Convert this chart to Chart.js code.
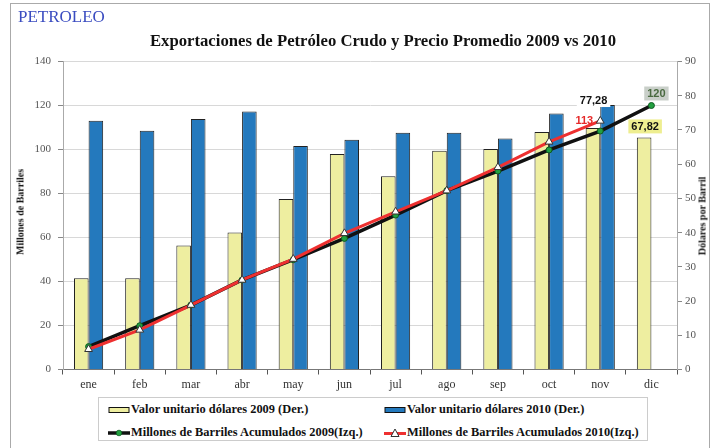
<!DOCTYPE html>
<html>
<head>
<meta charset="utf-8">
<script src="https://cdn.jsdelivr.net/npm/chart.js@4.4.0/dist/chart.umd.min.js"></script>
<style>
  html, body { margin: 0; padding: 0; background: #fff; }
  #wrap { position: relative; width: 717px; height: 448px; overflow: hidden; }
  #frame { position: absolute; left: 10px; top: 3px; width: 700px; height: 460px; border: 1px solid #aaa; box-sizing: border-box; }
  canvas { position: absolute; left: 0; top: 0; }
  .txt { position: absolute; white-space: nowrap; }
  #brand { left: 18px; top: 7px; font: 17px "Liberation Serif", serif; color: #3a4cc0; }
  #title { left: 0; width: 766px; text-align: center; top: 31px; font: bold 16.7px "Liberation Serif", serif; color: #111; }
  .ytitle { font: bold 10px "Liberation Serif", serif; color: #111; transform: translate(-50%, -50%) rotate(-90deg); }
  #legend { position: absolute; left: 98px; top: 397px; width: 550px; height: 44px; border: 1px solid #ccc; box-sizing: border-box; background: #fff; }
  .li { position: absolute; display: flex; align-items: center; font: bold 12.4px "Liberation Serif", serif; color: #111; white-space: nowrap; }
  .li svg { margin-right: 1px; }
</style>
</head>
<body>
<div id="wrap">
  <div id="frame"></div>
  <canvas id="c" width="717" height="448"></canvas>
  <div class="txt" id="brand">PETROLEO</div>
  <div class="txt" id="title">Exportaciones de Petróleo Crudo y Precio Promedio 2009 vs 2010</div>
  <div class="txt ytitle" style="left:20px; top:212px;">Millones de Barriles</div>
  <div class="txt ytitle" style="left:702px; top:216px;">Dólares por Barril</div>
  <div id="legend"></div>
</div>
<script>
// ---- data ----
const months = ['ene','feb','mar','abr','may','jun','jul','ago','sep','oct','nov','dic'];
const precio2009 = [26.7, 26.7, 36.2, 40.0, 49.8, 63.0, 56.5, 63.9, 64.4, 69.4, 70.6, 67.82];
const precio2010 = [72.7, 69.8, 73.2, 75.4, 65.3, 67.1, 69.2, 69.2, 67.5, 74.8, 77.28, null];
const barriles2009 = [10.4, 19.9, 29.3, 40.7, 49.9, 59.6, 70.2, 81.3, 90.2, 99.8, 108.4, 120];
const barriles2010 = [9.2, 18.0, 29.3, 40.7, 50.2, 61.9, 71.7, 81.3, 91.9, 103.5, 113, null];
const leftTicks = [0, 20, 40, 60, 80, 100, 120, 140];
const rightTicks = [0, 10, 20, 30, 40, 50, 60, 70, 80, 90];
const seriesNames = [
  'Valor unitario dólares 2009 (Der.)',
  'Valor unitario dólares 2010 (Der.)',
  'Millones de Barriles Acumulados 2009(Izq.)',
  'Millones de Barriles Acumulados 2010(Izq.)'
];
// labels shown on the chart: [datasetIndex, pointIndex, text]
const valueLabels = [
  [1, 10, '77,28'],
  [3, 10, '113'],
  [2, 11, '120'],
  [0, 11, '67,82']
];

const C_Y = '#eeeea0', C_B = '#2479bd', C_K = '#111111', C_R = '#ee3030';

const labelStyles = {
  '77,28': { dx: -14, dy: -5, bg: '#ffffff', fg: '#111' },
  '113':   { dx: -16, dy: 0,  bg: null,      fg: '#e62a2a' },
  '120':   { dx: 5,   dy: -12, bg: '#c9cfc9', fg: '#4a6a40' },
  '67,82': { dx: 1,   dy: -11, bg: '#eeee90', fg: '#111' }
};

const labelPlugin = {
  id: 'valueLabels',
  afterDatasetsDraw(chart) {
    const ctx = chart.ctx;
    ctx.save();
    ctx.font = 'bold 11px "Liberation Sans", Arial, sans-serif';
    ctx.textAlign = 'center';
    ctx.textBaseline = 'middle';
    valueLabels.forEach(([di, pi, text]) => {
      const el = chart.getDatasetMeta(di).data[pi];
      if (!el) return;
      const st = labelStyles[text];
      const x = el.x + st.dx, y = el.y + st.dy;
      const w = ctx.measureText(text).width;
      if (st.bg) {
        ctx.fillStyle = st.bg;
        ctx.fillRect(x - w / 2 - 3, y - 7, w + 6, 14);
      }
      ctx.fillStyle = st.fg;
      ctx.fillText(text, x, y + 0.5);
    });
    ctx.restore();
  }
};

const serif = '"Liberation Serif", "Times New Roman", serif';

new Chart(document.getElementById('c'), {
  type: 'bar',
  data: {
    labels: months,
    datasets: [
      { type: 'bar', label: seriesNames[0], data: precio2009, yAxisID: 'y1', backgroundColor: C_Y, borderColor: '#222', borderWidth: 1, order: 2 },
      { type: 'bar', label: seriesNames[1], data: precio2010, yAxisID: 'y1', backgroundColor: C_B, borderColor: '#222', borderWidth: 1, order: 3 },
      { type: 'line', label: seriesNames[2], data: barriles2009, yAxisID: 'y', borderColor: C_K, borderWidth: 3.5, pointStyle: 'circle', pointRadius: 3, pointBackgroundColor: '#22a040', pointBorderColor: '#0d5a20', pointBorderWidth: 1, tension: 0, order: 1 },
      { type: 'line', label: seriesNames[3], data: barriles2010, yAxisID: 'y', borderColor: C_R, borderWidth: 3, pointStyle: 'triangle', pointRadius: 4.5, pointBackgroundColor: '#ffffff', pointBorderColor: '#333', pointBorderWidth: 1, tension: 0, order: 0 }
    ]
  },
  options: {
    responsive: false,
    animation: false,
    layout: { padding: { top: 61.5, bottom: 53.5, left: 0, right: 0 } },
    datasets: { bar: { categoryPercentage: 0.57, barPercentage: 1.0 } },
    plugins: { legend: { display: false }, tooltip: { enabled: false }, title: { display: false } },
    scales: {
      x: {
        offset: true,
        grid: { drawOnChartArea: false, drawTicks: true, tickLength: 5, color: '#555', offset: true },
        border: { color: '#777' },
        ticks: { font: { family: serif, size: 12 }, color: '#333', padding: 3 },
        afterFit: s => { s.height = 25; }
      },
      y: {
        position: 'left', min: 0, max: 140,
        afterBuildTicks: s => { s.ticks = leftTicks.map(v => ({ value: v })); },
        ticks: { font: { family: serif, size: 11 }, color: '#555', padding: 7 },
        grid: { color: '#d8d8d8', tickColor: '#888', tickLength: 5 },
        border: { color: '#aaa' },
        afterFit: s => { s.width = 63; }
      },
      y1: {
        position: 'right', min: 0, max: 90,
        afterBuildTicks: s => { s.ticks = rightTicks.map(v => ({ value: v })); },
        ticks: { font: { family: serif, size: 11 }, color: '#555', padding: 3 },
        grid: { drawOnChartArea: false, tickColor: '#888', tickLength: 5 },
        border: { color: '#aaa' },
        afterFit: s => { s.width = 40; }
      }
    }
  },
  plugins: [labelPlugin]
});

// ---- legend ----
const markers = [
  `<svg width="22" height="8"><rect x="1" y="1.5" width="20" height="5" fill="${C_Y}" stroke="#111" stroke-width="1"/></svg>`,
  `<svg width="22" height="8"><rect x="1" y="1.5" width="20" height="5" fill="${C_B}" stroke="#111" stroke-width="1"/></svg>`,
  `<svg width="22" height="10"><line x1="0" y1="5" x2="22" y2="5" stroke="${C_K}" stroke-width="3.5"/><circle cx="11" cy="5" r="2.8" fill="#22a040" stroke="#0d5a20" stroke-width="0.8"/></svg>`,
  `<svg width="22" height="10"><line x1="0" y1="5.5" x2="22" y2="5.5" stroke="${C_R}" stroke-width="3"/><polygon points="11,1 15,8.5 7,8.5" fill="#fff" stroke="#333" stroke-width="1"/></svg>`
];
const pos = [[9, 4], [285, 4], [9, 27], [285, 27]];
const lg = document.getElementById('legend');
seriesNames.forEach((n, i) => {
  const d = document.createElement('div');
  d.className = 'li';
  d.style.left = pos[i][0] + 'px';
  d.style.top = pos[i][1] + 'px';
  d.innerHTML = markers[i] + '<span>' + n + '</span>';
  lg.appendChild(d);
});
</script>
</body>
</html>
